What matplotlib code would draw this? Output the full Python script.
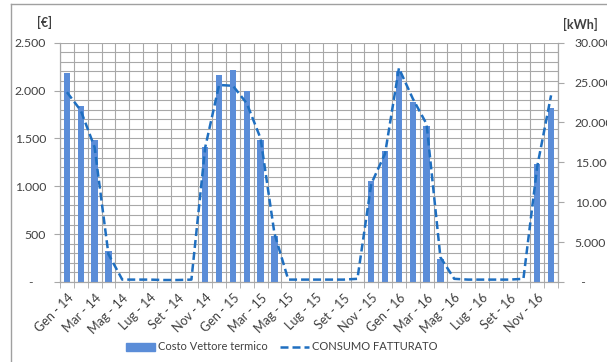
import matplotlib
matplotlib.use("Agg")
import matplotlib.pyplot as plt
from matplotlib.ticker import FixedLocator, MultipleLocator, FuncFormatter
from matplotlib.lines import Line2D
import numpy as np

plt.rcParams['font.family'] = ['Lato', 'DejaVu Sans']

# Dati mensili Gen-14 .. Dic-16
mesi = ["Gen", "Feb", "Mar", "Apr", "Mag", "Giu", "Lug", "Ago", "Set", "Ott", "Nov", "Dic"]
anni = ["14", "15", "16"]
etichette = [f"{m} - {a}" for a in anni for m in mesi]

costo = [2180, 1840, 1480, 320, 0, 0, 0, 0, 0, 0, 1410, 2160,
         2220, 2000, 1480, 480, 0, 0, 0, 0, 0, 0, 1050, 1370,
         2200, 1880, 1630, 240, 0, 0, 0, 0, 0, 0, 1230, 1820]

consumo = [23800, 21500, 16900, 3500, 300, 300, 300, 250, 250, 300, 16900, 24700,
           24600, 22400, 18000, 6100, 300, 300, 300, 300, 300, 400, 12300, 16100,
           26800, 23000, 19800, 3100, 400, 300, 300, 300, 300, 400, 14500, 23400]

col_barre = "#5B8DD8"
col_linea = "#1F6FC0"
col_grid = "#A8A8A8"
col_testo = "#404040"

fig = plt.figure(figsize=(6.07, 3.62), dpi=100)
ax = fig.add_axes([60 / 607, 80 / 362, 498 / 607, 239.3 / 362])
ax2 = ax.twinx()

x = np.arange(len(costo))
ax.bar(x, costo, width=0.45, color=col_barre, zorder=3)
ax2.plot(x, consumo, color=col_linea, lw=1.8, dashes=(3.2, 1.6), zorder=4)

ax.set_xlim(-0.5, len(costo) - 0.5)
ax.set_ylim(0, 2500)
ax2.set_ylim(0, 30000)

# griglia: verticale ai confini di categoria, orizzontale ogni 100 €
for b in np.arange(-0.5, len(costo), 1.0):
    ax.axvline(b, color=col_grid, lw=0.8, zorder=1)
for h in range(0, 2501, 100):
    ax.axhline(h, color=col_grid, lw=0.8, zorder=1)

ax.set_xticks(x[::2])
ax.set_xticklabels(etichette[::2], rotation=45, ha="right", rotation_mode="anchor",
                   fontsize=9, color=col_testo)
ax.xaxis.set_minor_locator(FixedLocator(np.arange(-0.5, len(costo), 1.0)))
ax.tick_params(axis="x", which="major", length=0, pad=7)
ax.tick_params(axis="x", which="minor", length=4, color=col_grid)

fmt = lambda v, p: "-    " if v == 0 else f"{int(v):,}".replace(",", ".")
ax.yaxis.set_major_locator(MultipleLocator(500))
ax.yaxis.set_major_formatter(FuncFormatter(fmt))
ax.tick_params(axis="y", length=4, color=col_grid, labelsize=8.8, labelcolor=col_testo, pad=6)

fmt2 = lambda v, p: "  -" if v == 0 else f"{int(v):,}".replace(",", ".")
ax2.yaxis.set_major_locator(MultipleLocator(5000))
ax2.yaxis.set_major_formatter(FuncFormatter(fmt2))
ax2.tick_params(axis="y", length=4, color=col_grid, labelsize=8.8, labelcolor=col_testo, pad=8)

for a in (ax, ax2):
    for s in a.spines.values():
        s.set_color(col_grid)
        s.set_linewidth(0.8)
    a.spines["top"].set_visible(False)

fig.text(45 / 607, 1 - 22 / 362, "[€]", ha="center", va="center", fontsize=9,
         fontweight="bold", color=col_testo)
fig.text(580 / 607, 1 - 24 / 362, "[kWh]", ha="center", va="center", fontsize=9,
         fontweight="bold", color=col_testo)

# cornice dell'area grafico (bordo sinistro e superiore)
fig.add_artist(Line2D([11 / 607, 11 / 607], [0, 1 - 3.5 / 362], transform=fig.transFigure,
                      color="#A0A0A0", lw=1))
fig.add_artist(Line2D([11 / 607, 1], [1 - 3.5 / 362, 1 - 3.5 / 362], transform=fig.transFigure,
                      color="#A0A0A0", lw=1))

handles = [plt.Rectangle((0, 0), 1, 1, color=col_barre),
           Line2D([], [], color=col_linea, lw=1.8, dashes=(3.2, 1.6))]
fig.legend(handles, ["Costo Vettore termico", "CONSUMO FATTURATO"],
           loc="center left", bbox_to_anchor=(126 / 607, 1 - 347 / 362), ncol=2,
           frameon=False, fontsize=8, handlelength=2.6, handleheight=0.75,
           columnspacing=1.1, handletextpad=0.27, borderpad=0, borderaxespad=0,
           labelcolor=col_testo)

fig.savefig("out.png", dpi=100)
